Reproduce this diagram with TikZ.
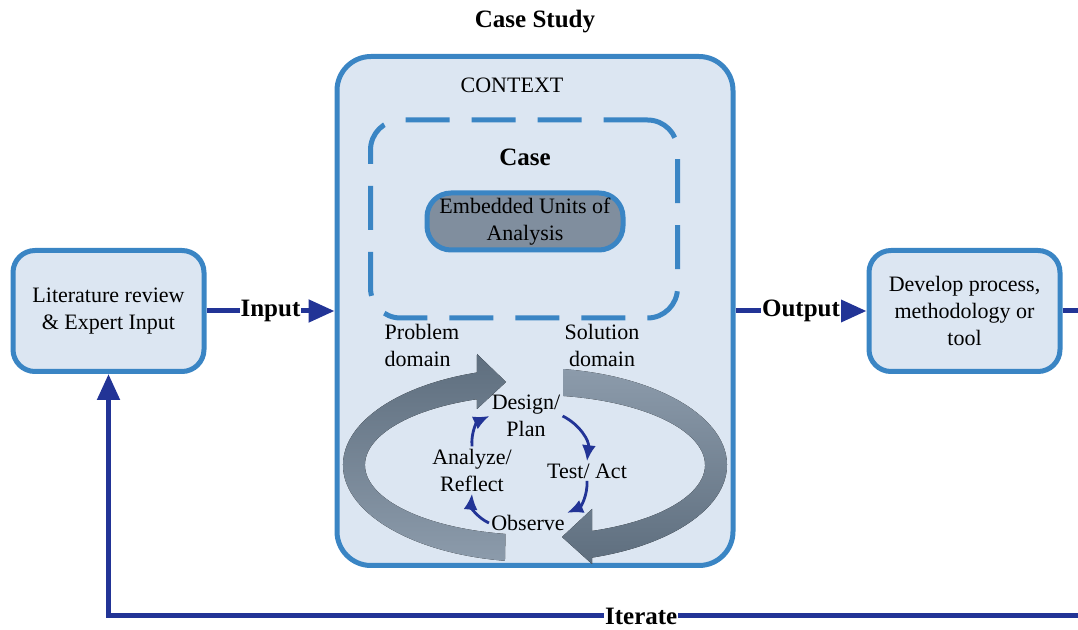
\documentclass[tikz,border=0pt]{standalone}
\usepackage{fontspec}
\setmainfont{Liberation Serif}
\usetikzlibrary{arrows.meta}
\definecolor{boxblue}{RGB}{58,133,196}
\definecolor{boxfill}{RGB}{220,230,242}
\definecolor{unitgray}{RGB}{128,142,158}
\definecolor{navy}{RGB}{34,52,150}
\definecolor{ribdark}{RGB}{94,110,126}
\definecolor{riblight}{RGB}{140,155,171}
\tikzset{
  sidebox/.style={draw=boxblue,line width=2.5pt,fill=boxfill,rounded corners=11pt,
    align=center,minimum width=95.5pt,minimum height=60.5pt,inner sep=0pt},
  ctxbox/.style={draw=boxblue,line width=2.5pt,fill=boxfill,rounded corners=17pt,
    minimum width=198pt,minimum height=254.5pt},
  casebox/.style={draw=boxblue,line width=2.5pt,dash pattern=on 22pt off 11pt,
    rounded corners=15pt,minimum width=153.5pt,minimum height=99pt},
  unitbox/.style={draw=boxblue,line width=2.5pt,fill=unitgray,rounded corners=12pt,
    align=center,minimum width=98pt,minimum height=28.5pt,inner sep=0pt},
  boldtxt/.style={font=\fontsize{12.5}{15}\selectfont\bfseries},
  flow/.style={draw=navy,line width=2.5pt,-{Triangle[length=13pt,width=11pt]}},
  flowlbl/.style={boldtxt,fill=white,inner sep=0.5pt},
  cyc/.style={draw=navy,line width=1.4pt,-{Latex[length=8pt,width=7pt]}},
  txt/.style={align=center,inner sep=1pt}
}

\begin{document}
\begin{tikzpicture}[x=0.5pt,y=-0.5pt,font=\fontsize{11}{13.5}\selectfont]
  \useasboundingbox (0,0) rectangle (1078,630);

  \node[boldtxt] (title) at (535,22) {Case Study};
  \node[ctxbox] (context) at (535,311) {};
  \node (ctxlbl) at (512,85) {CONTEXT};
  \node[casebox] (case) at (524,219) {};
  \node[boldtxt] (caselbl) at (525,157) {Case};
  \node[unitbox] (units) at (525,221.5) {Embedded Units of\\Analysis};

  \node[sidebox] (litrev) at (108.5,311) {Literature review\\\& Expert Input};
  \node[sidebox] (develop) at (964.5,311) {Develop process,\\methodology or\\tool};

  \fill[top color=ribdark,bottom color=riblight]
    ([shift={(535,465)}]99:192 and 97)
    arc[start angle=99,end angle=252.4,x radius=192,y radius=97]
    -- (477,354) -- (506,382) -- (477,409)
    -- ([shift={(535,465)}]250:170 and 70)
    arc[start angle=250,end angle=100,x radius=170,y radius=70] -- cycle;
  \fill[top color=riblight,bottom color=ribdark]
    ([shift={(535,465)}]278.4:192 and 97)
    arc[start angle=278.4,end angle=432.7,x radius=192,y radius=97]
    -- (592,564) -- (562,537) -- (592,509)
    -- ([shift={(535,465)}]430.4:170 and 70)
    arc[start angle=430.4,end angle=279.5,x radius=170,y radius=70] -- cycle;

  \node[align=left] (prob) at (422,345) {Problem\\domain};
  \node[txt] (sol) at (602,345) {Solution\\domain};
  \node[txt] (design) at (526,416) {Design/\\Plan};
  \node[txt] (test) at (587,471) {Test/ Act};
  \node[txt] (observe) at (528,523) {Observe};
  \node[txt] (analyze) at (472,470) {Analyze/\\Reflect};

  \draw[cyc] (design.east) to[bend left=35] (test.north);
  \draw[cyc] (test.south) to[bend left=35] (observe.north east);
  \draw[cyc] (observe.west) to[bend left=35] (analyze.south);
  \draw[cyc] (analyze.north) to[bend left=35] (design.west);

  \coordinate (rtop) at (1095,311);
  \coordinate (rbot) at (1095,616);
  \coordinate (lbot) at (108.5,616);
  \draw[flow] (litrev) -- node[flowlbl]{Input} (context);
  \draw[flow] (context) -- node[flowlbl]{Output} (develop);
  \draw[flow] (develop.east) -- (rtop) -- (rbot)
    -- node[flowlbl,pos=0.46]{Iterate} (lbot) -- (litrev.south);
\end{tikzpicture}
\end{document}
